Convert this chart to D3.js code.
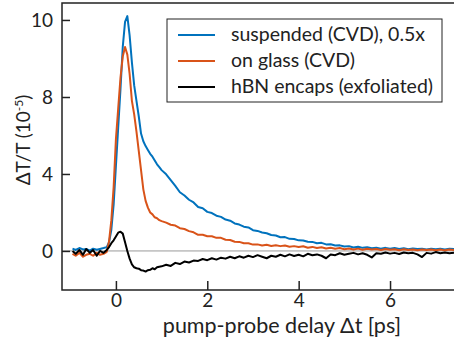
<!DOCTYPE html>
<html>
<head>
<meta charset="utf-8">
<script src="https://cdn.jsdelivr.net/npm/d3@7"></script>
<style>
  body { margin: 0; background: #fff; }
  svg { display: block; font-family: Lato, "Open Sans", sans-serif; }
</style>
</head>
<body>
<svg width="454" height="343"></svg>
<script>
// pump-probe delay (ps)
var delay = [
  -0.95, -0.88, -0.8, -0.72, -0.65, -0.57, -0.5, -0.42, -0.35, -0.27,
  -0.2, -0.15, -0.1, -0.05, 0, 0.05, 0.1, 0.15, 0.2, 0.25, 0.3, 0.35, 0.4, 0.45,
  0.5, 0.55, 0.6, 0.65, 0.7, 0.75, 0.8, 0.85, 0.9, 0.95,
  1.0, 1.1, 1.2, 1.3, 1.4, 1.5, 1.6, 1.7, 1.8, 1.9,
  2.0, 2.1, 2.2, 2.3, 2.4, 2.5, 2.6, 2.7, 2.8, 2.9,
  3.0, 3.1, 3.2, 3.3, 3.4, 3.5, 3.6, 3.7, 3.8, 3.9,
  4.0, 4.1, 4.2, 4.3, 4.4, 4.5, 4.6, 4.7, 4.8, 4.9,
  5.0, 5.1, 5.2, 5.3, 5.4, 5.5, 5.6, 5.7, 5.8, 5.9,
  6.0, 6.1, 6.2, 6.3, 6.4, 6.5, 6.6, 6.7, 6.8, 6.9,
  7.0, 7.1, 7.2, 7.3, 7.4
];

// dT/T (1e-5), suspended CVD scaled by 0.5
var suspended = [
  0.12, 0.05, 0.15, 0.08, 0.1, 0.02, 0.12, 0.06, 0.1, 0.15,
  0.2, 0.45, 1.1, 2.4, 4.4, 6.4, 8.2, 9.3, 9.95, 10.1, 9.6, 8.9, 8.3, 7.8,
  7.0, 6.1, 5.7, 5.45, 5.25, 5.05, 4.9, 4.7, 4.5, 4.35,
  4.2, 3.98, 3.68, 3.38, 3.05, 2.88, 2.66, 2.52, 2.28, 2.22,
  2.03, 1.97, 1.83, 1.77, 1.63, 1.57, 1.43, 1.37, 1.26, 1.22,
  1.08, 1.04, 0.96, 0.92, 0.83, 0.8, 0.71, 0.72, 0.63, 0.62,
  0.55, 0.54, 0.48, 0.47, 0.4, 0.42, 0.34, 0.35, 0.28, 0.29,
  0.23, 0.25, 0.18, 0.22, 0.16, 0.19, 0.14, 0.17, 0.12, 0.16,
  0.11, 0.15, 0.1, 0.14, 0.09, 0.13, 0.1, 0.12, 0.08, 0.12,
  0.09, 0.12, 0.08, 0.11, 0.1
];

var onGlass = [
  -0.15, -0.25, -0.1, -0.3, -0.2, -0.15, -0.25, -0.1, -0.2, -0.15,
  -0.05, 0.5, 1.6, 3.3, 5.8, 7.4, 8.5, 9.05, 9.3, 9.1, 8.6, 7.8, 7.1, 6.2,
  5.2, 4.2, 3.2, 2.6, 2.25, 2.0, 1.9, 1.75, 1.7, 1.6,
  1.55, 1.47, 1.36, 1.32, 1.18, 1.14, 1.03, 0.97, 0.84, 0.84,
  0.76, 0.76, 0.68, 0.68, 0.58, 0.57, 0.48, 0.47, 0.4, 0.4,
  0.33, 0.34, 0.28, 0.32, 0.26, 0.3, 0.25, 0.28, 0.22, 0.25,
  0.2, 0.24, 0.17, 0.21, 0.15, 0.19, 0.13, 0.17, 0.11, 0.15,
  0.09, 0.13, 0.08, 0.12, 0.06, 0.11, 0.07, 0.1, 0.05, 0.1,
  0.06, 0.09, 0.04, 0.09, 0.05, 0.08, 0.04, 0.08, 0.05, 0.07,
  0.04, 0.08, 0.03, 0.07, 0.05
];

var hbnEncaps = [
  0.0, -0.15, 0.05, -0.2, 0.1, -0.1, 0.05, -0.25, 0.0, -0.1,
  0.05, 0.2, 0.4, 0.55, 0.75, 0.95, 1.0, 0.9, 0.45, 0.0, -0.4, -0.7, -0.85, -0.9,
  -0.92, -1.0, -1.02, -1.07, -1.0, -0.98, -0.9, -0.95, -0.85, -0.82,
  -0.8, -0.72, -0.78, -0.62, -0.68, -0.55, -0.6, -0.5, -0.52, -0.42,
  -0.48, -0.38, -0.45, -0.35, -0.4, -0.3, -0.38, -0.28, -0.35, -0.25,
  -0.32, -0.22, -0.3, -0.38, -0.25, -0.3, -0.2, -0.28, -0.18, -0.26,
  -0.2, -0.28, -0.15, -0.22, -0.18, -0.25, -0.38, -0.18, -0.22, -0.12,
  -0.2, -0.15, -0.1, -0.18, -0.12, -0.2, -0.34, -0.12, -0.15, -0.08,
  -0.14, -0.1, -0.16, -0.08, -0.12, -0.1, -0.18, -0.32, -0.1, -0.14,
  -0.06, -0.12, -0.08, -0.12, -0.1
];

var seriesNames = ["suspended (CVD), 0.5x", "on glass (CVD)", "hBN encaps (exfoliated)"];
var seriesColors = ["#0072bd", "#d95319", "#000000"];
var xTicks = [0, 2, 4, 6];
var yTicks = [0, 4, 8, 10];

var svg = d3.select("svg"),
  plotLeft = 62,
  plotTop = 3,
  plotBottom = 290,
  plotRight = 454;

var x = d3.scaleLinear().domain([-1.18, 7.4]).range([plotLeft, plotRight]);
// the axis is stretched above 8
var y = d3.scaleLinear().domain([-2.03, 8, 10.44]).range([plotBottom, 97, plotTop]);

svg.append("clipPath").attr("id", "plot")
  .append("rect")
  .attr("x", plotLeft).attr("y", plotTop)
  .attr("width", plotRight - plotLeft).attr("height", plotBottom - plotTop);

// zero line
svg.append("line")
  .attr("x1", plotLeft).attr("x2", plotRight)
  .attr("y1", y(0)).attr("y2", y(0))
  .attr("stroke", "#9a9a9a")
  .attr("stroke-width", 1);

var line = d3.line()
  .x(function(d) { return x(d[0]); })
  .y(function(d) { return y(d[1]); });

[suspended, onGlass, hbnEncaps].forEach(function(vals, i) {
  svg.append("path")
    .datum(delay.map(function(t, k) { return [t, vals[k]]; }))
    .attr("clip-path", "url(#plot)")
    .attr("fill", "none")
    .attr("stroke", seriesColors[i])
    .attr("stroke-width", 2)
    .attr("stroke-linejoin", "round")
    .attr("d", line);
});

// axes, ticks pointing inward
var xAxis = svg.append("g")
  .attr("transform", "translate(0," + plotBottom + ")")
  .call(d3.axisBottom(x).tickValues(xTicks).tickSize(-9).tickPadding(3).tickSizeOuter(0));
var yAxis = svg.append("g")
  .attr("transform", "translate(" + plotLeft + ",0)")
  .call(d3.axisLeft(y).tickValues(yTicks).tickSize(-8).tickPadding(9).tickSizeOuter(0));

[xAxis, yAxis].forEach(function(g) {
  g.select(".domain").remove();
  g.selectAll(".tick line").attr("stroke", "#222").attr("stroke-width", 1.5);
  g.selectAll(".tick text")
    .attr("fill", "#222")
    .style("font-family", "Lato, sans-serif")
    .style("font-size", "19px");
});

// frame (right side runs off the picture)
svg.append("path")
  .attr("d", "M" + (plotRight + 2) + "," + plotTop + "H" + plotLeft + "V" + plotBottom + "H" + (plotRight + 2))
  .attr("fill", "none")
  .attr("stroke", "#222")
  .attr("stroke-width", 1.5);

svg.append("text")
  .attr("x", 282).attr("y", 333)
  .attr("text-anchor", "middle")
  .attr("fill", "#222")
  .style("font-size", "21.5px")
  .text("pump-probe delay \u0394t [ps]");

var ylab = svg.append("text")
  .attr("transform", "translate(30,140) rotate(-90)")
  .attr("text-anchor", "middle")
  .attr("fill", "#222")
  .style("font-size", "19px");
ylab.append("tspan").text("\u0394T/T (10");
ylab.append("tspan").attr("dy", -7).style("font-size", "12px").text("-5");
ylab.append("tspan").attr("dy", 7).text(")");

// legend
var legend = svg.append("g");
legend.append("rect")
  .attr("x", 167).attr("y", 19)
  .attr("width", 275).attr("height", 83)
  .attr("fill", "#fff")
  .attr("stroke", "#222")
  .attr("stroke-width", 1);

seriesNames.forEach(function(name, i) {
  var ly = 35 + i * 26;
  legend.append("line")
    .attr("x1", 178).attr("x2", 215)
    .attr("y1", ly).attr("y2", ly)
    .attr("stroke", seriesColors[i])
    .attr("stroke-width", 2);
  legend.append("text")
    .attr("x", 231).attr("y", ly + 6)
    .attr("fill", "#222")
    .style("font-size", "19.5px")
    .text(name);
});
</script>
</body>
</html>
